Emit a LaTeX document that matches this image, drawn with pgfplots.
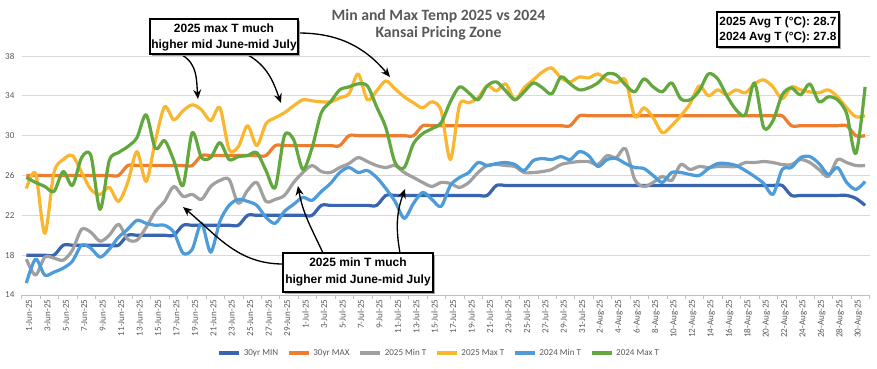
\documentclass[border=0pt]{standalone}
\usepackage{pgfplots}
\usepackage{pgfplotstable}
\pgfplotsset{compat=1.18}
\usepackage{fontspec}
\setmainfont{Carlito}
\newfontfamily\arialfont{Liberation Sans}
\usetikzlibrary{arrows.meta}
\definecolor{cMin}{HTML}{3A63B0}
\definecolor{cMax}{HTML}{ED7D31}
\definecolor{cN25}{HTML}{A0A0A0}
\definecolor{cX25}{HTML}{F9B62E}
\definecolor{cN24}{HTML}{4D9BD8}
\definecolor{cX24}{HTML}{62A83F}
\definecolor{labgray}{HTML}{595959}
\definecolor{gridgray}{HTML}{D9D9D9}
\definecolor{axgray}{HTML}{BFBFBF}

\pgfplotstableread{
i mn mx n25 x25 n24 x24
0 18 26 17.6 24.7 15.2 25.8
1 18 26 16.0 26.2 17.6 25.3
2 18 26 17.8 20.2 16.0 24.9
3 18 26 17.7 26.3 16.3 24.4
4 19 26 17.5 27.6 16.7 26.4
5 19 26 18.5 28.0 17.4 25.0
6 19 26 20.6 26.3 19.0 27.8
7 19 26 20.3 24.6 18.7 28.0
8 19 26 19.4 24.1 17.8 22.6
9 19 26 20.0 24.8 18.6 27.5
10 19 26 21.1 23.4 19.8 28.3
11 20 27 19.6 25.3 20.6 28.9
12 20 27 19.5 28.4 21.5 29.8
13 20 27 20.8 25.4 21.2 32.1
14 20 27 22.4 29.5 21.0 28.7
15 20 27 23.4 32.9 21.0 29.5
16 20 27 24.9 31.6 20.3 27.5
17 21 27 23.9 32.5 18.2 25.0
18 21 27 24.1 33.1 18.6 30.3
19 21 28 23.6 32.6 21.2 27.8
20 21 28 24.9 31.5 18.3 27.8
21 21 28 25.5 32.8 21.4 29.3
22 21 28 25.6 28.6 23.0 27.6
23 21 28 23.2 28.9 23.6 27.9
24 22 28 24.5 31.0 23.4 28.0
25 22 28 25.3 29.0 23.0 28.3
26 22 28 23.4 31.2 21.8 26.5
27 22 29 23.6 31.8 21.2 24.8
28 22 29 24.0 32.3 22.4 30.0
29 22 29 25.3 33.0 23.1 29.6
30 22 29 26.3 33.6 23.8 26.6
31 22 29 27.0 33.5 23.5 28.8
32 23 29 26.4 33.4 24.4 32.3
33 23 29 26.3 33.4 25.2 33.4
34 23 29 26.8 33.8 26.3 34.6
35 23 30 27.2 34.2 26.8 34.9
36 23 30 27.8 36.2 26.3 35.2
37 23 30 27.4 33.6 26.5 35.0
38 23 30 27.0 34.5 25.8 32.9
39 24 30 26.8 35.5 24.7 30.8
40 24 30 27.0 34.7 23.4 27.3
41 24 30 26.3 33.9 21.7 26.8
42 24 30 25.8 33.3 23.2 29.2
43 24 31 25.3 32.8 24.3 30.2
44 24 31 24.9 33.4 23.6 30.7
45 24 31 25.3 32.5 22.9 31.3
46 24 31 25.2 27.6 25.0 33.4
47 24 31 24.8 33.1 25.8 34.9
48 24 31 25.3 33.3 26.3 34.3
49 24 31 26.3 33.8 27.3 33.6
50 24 31 27.0 35.0 27.0 35.0
51 25 31 27.1 34.5 27.2 35.4
52 25 31 27.0 35.2 27.3 34.5
53 25 31 26.9 33.6 27.1 33.6
54 25 31 26.3 34.8 26.5 34.4
55 25 31 26.3 35.6 27.5 35.3
56 25 31 26.4 36.4 27.7 34.8
57 25 31 26.6 36.8 27.6 34.2
58 25 31 27.1 35.8 27.9 35.9
59 25 31 27.3 35.4 27.6 35.2
60 25 32 27.4 35.9 28.4 34.6
61 25 32 27.4 35.8 28.0 34.8
62 25 32 27.1 36.2 26.9 35.3
63 25 32 28.0 35.6 27.6 36.2
64 25 32 27.8 35.3 27.7 36.1
65 25 32 28.7 35.6 27.2 35.1
66 25 32 25.6 31.9 26.8 34.4
67 25 32 24.9 32.8 26.7 35.7
68 25 32 25.3 31.8 26.0 34.9
69 25 32 25.9 30.3 25.3 34.4
70 25 32 25.5 31.0 26.3 35.3
71 25 32 27.1 32.0 26.3 33.7
72 25 32 26.6 33.2 26.1 33.6
73 25 32 26.9 35.0 26.0 34.5
74 25 32 26.8 34.0 26.7 36.2
75 25 32 26.9 34.6 27.2 35.7
76 25 32 26.9 34.1 27.2 34.0
77 25 32 26.9 34.6 27.0 32.6
78 25 32 27.3 34.3 26.5 32.1
79 25 32 27.3 35.2 25.9 35.3
80 25 32 27.4 35.6 25.2 30.8
81 25 32 27.3 34.9 24.1 31.5
82 25 32 27.1 33.7 26.6 34.1
83 24 31 27.1 34.9 26.8 34.8
84 24 31 27.6 34.6 27.8 34.1
85 24 31 27.3 34.4 27.9 35.2
86 24 31 26.6 34.3 27.2 33.4
87 24 31 25.9 34.6 26.1 33.9
88 24 31 27.6 33.9 26.8 33.6
89 24 31 27.3 32.8 25.3 32.2
90 23.7 30 27.0 31.9 24.6 28.2
91 23 30 27.0 32.0 25.4 34.9
}\tempdata

\begin{document}
\begin{tikzpicture}
\path[use as bounding box] (0pt,0pt) rectangle (657.75pt,276pt);
\begin{axis}[
  at={(16.3pt,54.75pt)}, anchor=south west,
  scale only axis, width=636pt, height=179.25pt,
  xmin=-0.5, xmax=91.5, ymin=14, ymax=38,
  ytick={14,18,...,38},
  xtick={0,2,...,90},
  xticklabels={1-Jun-25,3-Jun-25,5-Jun-25,7-Jun-25,9-Jun-25,11-Jun-25,13-Jun-25,15-Jun-25,17-Jun-25,19-Jun-25,21-Jun-25,23-Jun-25,25-Jun-25,27-Jun-25,29-Jun-25,1-Jul-25,3-Jul-25,5-Jul-25,7-Jul-25,9-Jul-25,11-Jul-25,13-Jul-25,15-Jul-25,17-Jul-25,19-Jul-25,21-Jul-25,23-Jul-25,25-Jul-25,27-Jul-25,29-Jul-25,31-Jul-25,2-Aug-25,4-Aug-25,6-Aug-25,8-Aug-25,10-Aug-25,12-Aug-25,14-Aug-25,16-Aug-25,18-Aug-25,20-Aug-25,22-Aug-25,24-Aug-25,26-Aug-25,28-Aug-25,30-Aug-25},
  minor xtick={-0.5,1.5,...,91.5},
  major tick length=0pt, minor tick length=3pt, tick align=outside,
  minor tick style={draw=axgray, line width=0.6pt},
  axis x line*=bottom, axis y line*=left,
  y axis line style={draw=none},
  x axis line style={draw=axgray, line width=0.6pt},
  ymajorgrids, grid style={draw=gridgray, line width=0.6pt},
  /pgf/number format/assume math mode=true,
  x tick label style={rotate=90, anchor=east, font=\fontsize{6.8}{8}\selectfont, text=labgray, yshift=-2pt},
  y tick label style={font=\fontsize{6.8}{8}\selectfont, text=labgray, xshift=-2pt},
  legend columns=6,
  legend style={at={(0.493,-0.243)}, anchor=center, draw=none, fill=none,
    font=\fontsize{6.8}{8}\selectfont, text=labgray,
    /tikz/every even column/.append style={column sep=5pt},
    inner sep=0pt, row sep=0pt},
  legend image code/.code={\draw[#1, line width=2.4pt] (0pt,0pt) -- (15pt,0pt);},
  every axis plot/.append style={line width=2.4pt, smooth, tension=0.5, line join=round},
]
\addplot[cMin, no markers] table[x=i, y=mn] {\tempdata};
\addlegendentry{30yr MIN}
\addplot[cMax, no markers] table[x=i, y=mx] {\tempdata};
\addlegendentry{30yr MAX}
\addplot[cN25, no markers] table[x=i, y=n25] {\tempdata};
\addlegendentry{2025 Min T}
\addplot[cX25, no markers] table[x=i, y=x25] {\tempdata};
\addlegendentry{2025 Max T}
\addplot[cN24, no markers] table[x=i, y=n24] {\tempdata};
\addlegendentry{2024 Min T}
\addplot[cX24, no markers] table[x=i, y=x24] {\tempdata};
\addlegendentry{2024 Max T}
\end{axis}

\begin{scope}[x=0.75pt, y=-0.75pt, shift={(0pt,276pt)}]
  % title
  \node[font=\bfseries\fontsize{11.8}{12.75}\selectfont, text=labgray, align=center] at (438.5,25) {Min and Max Temp 2025 vs 2024\\Kansai Pricing Zone};
  % arrows
  \begin{scope}[line width=1pt, -{Stealth[length=7pt, width=6pt]}]
    \draw (182,55) to[out=-30, in=95] (198,99);
    \draw (248,55) to[out=-30, in=110] (281,103);
    \draw (298,33) to[out=0, in=130] (390,77);
    \draw (283,264) to[out=180, in=-40] (183,207);
    \draw (323,253) to[out=115, in=-80] (298,186);
    \draw (400,253) to[out=100, in=-110] (405,189);
  \end{scope}
  % boxes
  \fill[black!35] (152,21) rectangle (300,56);
  \filldraw[fill=white, draw=black, line width=0.8pt] (150,19) rectangle (298,54);
  \node[font=\arialfont\bfseries\fontsize{9}{12}\selectfont, align=center] at (224,37) {2025 max T much\\higher mid June-mid July};
  \fill[black!35] (285,255) rectangle (435,294);
  \filldraw[fill=white, draw=black, line width=0.8pt] (283,253) rectangle (433,292);
  \node[font=\arialfont\bfseries\fontsize{9}{12.5}\selectfont, align=center] at (358,272) {2025 min T much\\higher mid June-mid July};
  \fill[black!35] (719,14) rectangle (841,49);
  \filldraw[fill=white, draw=black, line width=0.8pt] (717,12) rectangle (839,47);
  \node[font=\arialfont\bfseries\fontsize{8.9}{11.3}\selectfont, align=center] at (778,29.5) {2025 Avg T (°C): 28.7\\2024 Avg T (°C): 27.8};
\end{scope}
\end{tikzpicture}
\end{document}
